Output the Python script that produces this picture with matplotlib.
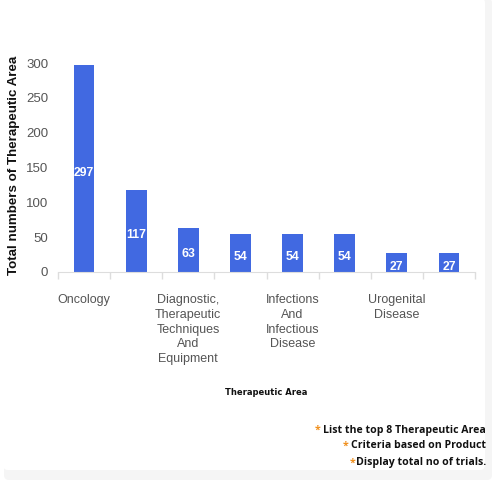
import matplotlib
matplotlib.use("Agg")
import matplotlib.pyplot as plt
from matplotlib.patches import FancyBboxPatch

categories = ["Oncology", "", "Diagnostic,\nTherapeutic\nTechniques\nAnd\nEquipment", "",
              "Infections\nAnd\nInfectious\nDisease", "", "Urogenital\nDisease", ""]
values = [297, 117, 63, 54, 54, 54, 27, 27]
yticks = [0, 50, 100, 150, 200, 250, 300]
notes = ["List the top 8 Therapeutic Area", "Criteria based on Product", "Display total no of trials."]
note_gaps = [3, 3, 0]

fig = plt.figure(figsize=(5, 5), dpi=100)
fig.patch.set_facecolor("white")
W = H = 500.0
# faint card shadow
fig.add_artist(FancyBboxPatch((4 / W, 20 / H), 488 / W, 482 / H, boxstyle="round,pad=0,rounding_size=0.01",
                              transform=fig.transFigure, facecolor="#f5f5f5", edgecolor="none", zorder=0))
fig.add_artist(FancyBboxPatch((3 / W, 30 / H), 482 / W, 472 / H, boxstyle="round,pad=0,rounding_size=0.01",
                              transform=fig.transFigure, facecolor="white", edgecolor="none", zorder=0))

ax = fig.add_axes([0.116, 0.456, 0.834, 0.418])
ax.set_facecolor("none")
x = list(range(len(values)))
ax.bar(x, values, width=0.4, color="#4169e1", zorder=2)
ax.set_xlim(-0.5, len(values) - 0.5)
ax.set_ylim(0, 300)
ax.set_yticks(yticks)
ax.tick_params(axis="y", length=0, labelsize=9.5, labelcolor="#555555", pad=7)
for lab in ax.get_yticklabels():
    lab.set_fontfamily("Liberation Sans")

ax.set_xticks([i - 0.5 for i in range(len(values) + 1)], minor=False)
ax.set_xticklabels([])
ax.tick_params(axis="x", length=5, color="#dddddd", width=1)
ax.set_xticks(x, minor=True)
ax.set_xticklabels(categories, minor=True, fontsize=9, color="#555555", family="Liberation Sans",
                   linespacing=1.3, va="top")
ax.tick_params(axis="x", which="minor", length=0, pad=16)

for s in ["top", "right", "left"]:
    ax.spines[s].set_visible(False)
ax.spines["bottom"].set_color("#dddddd")

for xi, v in zip(x, values):
    ax.text(xi, max(v / 2 - 6, 3), str(v), ha="center", va="center", color="white",
            fontsize=8.8, fontweight="bold", family="Liberation Sans", zorder=3)

fig.text(14 / W, 1 - 165 / H, "Total numbers of Therapeutic Area", rotation=90, ha="center", va="center",
         fontsize=9.6, fontweight="bold", family="Liberation Sans", color="#111111")
fig.text(0.532, 0.215, "Therapeutic Area", ha="center", va="center", fontsize=6,
         fontweight="bold", family="DejaVu Sans", color="#111111")

ys = [1 - 430 / H, 1 - 446 / H, 1 - 463 / H]
fig.canvas.draw()
for note, gap, y in zip(notes, note_gaps, ys):
    t = fig.text(486 / W, y, note, ha="right", va="center", fontsize=7.6, fontweight="bold",
                 family="Open Sans", color="#111111")
    bb = t.get_window_extent(renderer=fig.canvas.get_renderer())
    fig.text((bb.x0 - gap) / W, y, "*", ha="right", va="center", fontsize=7.6,
             fontweight="bold", family="Open Sans", color="#f0901e")

fig.savefig("out.png", dpi=100)
